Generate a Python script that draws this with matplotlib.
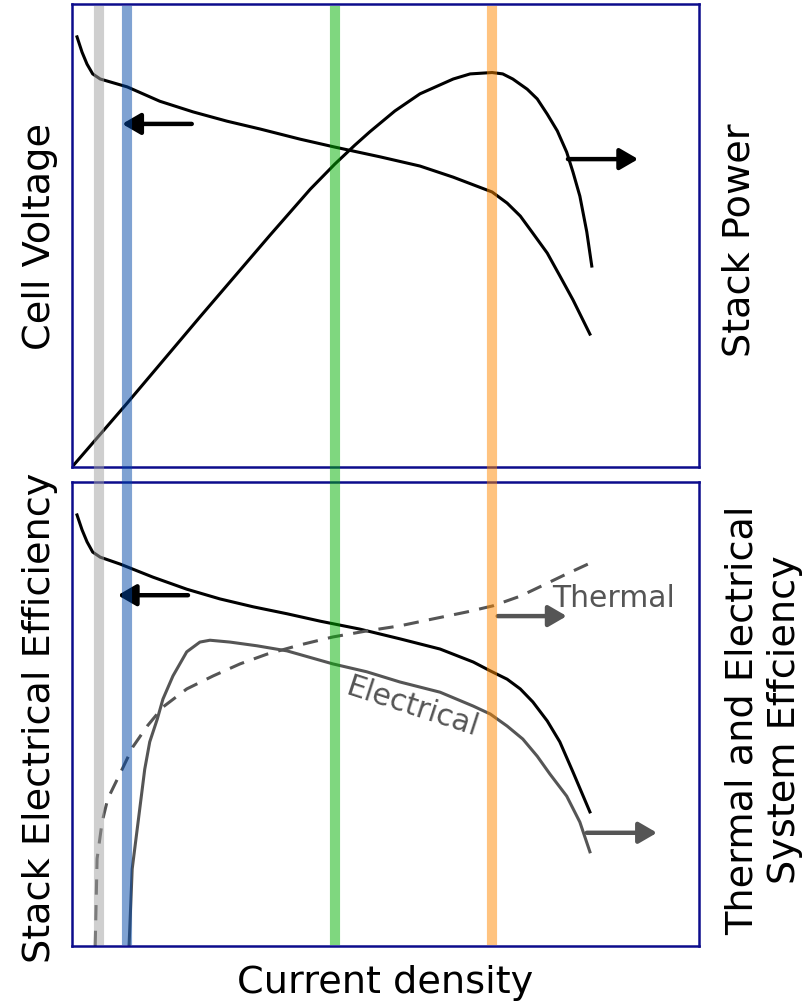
import matplotlib
matplotlib.use("Agg")
import matplotlib.pyplot as plt
from matplotlib.patches import FancyArrowPatch

plt.rcParams['font.family'] = ['DejaVu Sans']

# ---------------- data (arbitrary units, 0-100) ----------------
# operating points (vertical markers): current density
op_points = [4.3, 8.8, 41.9, 67.0]
op_colors = ['#a1a1a1', '#0047a7', '#00b100', '#ff8900']

# top panel: cell voltage (left axis) and stack power (right axis)
volt_x = [0.8, 1.6, 2.4, 3.3, 4.5, 8.8, 14.0, 19.3, 24.7, 30.0, 36.4, 41.9, 49.1,
          55.5, 60.8, 67.0, 69.4, 71.5, 73.5, 75.8, 77.8, 79.9, 82.6]
volt_y = [92.9, 89.6, 87.0, 84.9, 83.8, 82.1, 79.0, 76.7, 74.7, 73.0, 70.8, 69.1, 67.0,
          65.0, 62.6, 59.4, 57.0, 54.2, 50.5, 46.2, 41.3, 36.1, 28.7]

power_x = [0.0, 8.8, 20.4, 31.6, 38.0, 41.9, 45.1, 47.5, 51.5, 55.5, 60.8, 63.5, 67.0,
           68.7, 70.3, 72.6, 74.2, 75.8, 77.4, 78.9, 79.9, 81.0, 82.1, 82.9]
power_y = [0.0, 13.8, 32.4, 50.1, 60.0, 65.4, 69.5, 72.4, 76.9, 80.6, 83.8, 84.9, 85.2,
           84.9, 83.8, 81.6, 79.5, 76.2, 72.6, 68.0, 63.7, 58.5, 50.8, 43.4]

# bottom panel: stack electrical efficiency, system electrical & thermal efficiency
stack_eff_x = [0.8, 1.6, 2.4, 3.3, 4.5, 7.7, 12.9, 18.3, 23.6, 28.9, 34.3, 39.6, 45.9,
               52.3, 58.7, 64.0, 66.7, 69.4, 71.5, 73.5, 75.8, 77.8, 79.9, 82.6]
stack_eff_y = [92.9, 89.7, 87.1, 84.9, 83.8, 82.3, 79.5, 76.9, 74.8, 73.1, 71.6, 70.0, 68.3,
               66.2, 64.0, 61.2, 59.3, 57.5, 55.4, 52.6, 48.5, 44.0, 37.5, 28.9]

elec_x = [9.1, 9.6, 10.8, 11.6, 12.4, 13.6, 14.5, 16.1, 18.3, 20.4, 22.0, 25.2, 29.5,
          34.3, 41.6, 47.0, 52.3, 58.7, 64.0, 66.7, 69.4, 71.9, 74.2, 76.2, 78.9, 81.0, 82.6]
elec_y = [0.0, 16.6, 29.5, 38.1, 44.0, 48.9, 53.2, 58.2, 63.4, 65.5, 65.9, 65.5, 64.7,
          63.6, 60.8, 59.1, 56.9, 54.7, 51.7, 50.0, 47.4, 44.6, 40.9, 37.1, 32.3, 26.7, 20.3]

therm_x = [3.7, 4.0, 4.8, 5.7, 8.0, 9.7, 12.0, 14.5, 18.3, 22.5, 26.8, 31.1, 36.4,
           41.6, 47.0, 52.3, 57.6, 63.0, 67.1, 71.5, 74.6, 78.6, 83.4]
therm_y = [0.0, 18.8, 26.7, 31.7, 38.1, 42.9, 47.4, 51.5, 55.4, 58.2, 60.8, 62.9, 64.9,
           66.6, 67.9, 69.0, 70.5, 72.0, 73.3, 75.4, 77.4, 80.0, 83.0]

# labels
xlabel = "Current density"
top_left_label = "Cell Voltage"
top_right_label = "Stack Power"
bot_left_label = "Stack Electrical Efficiency"
bot_right_label = "Thermal and Electrical\nSystem Effciency"
thermal_label = "Thermal"
electrical_label = "Electrical"

# ---------------- figure ----------------
W, H = 812, 1003
fig = plt.figure(figsize=(W / 100, H / 100), dpi=100)

frame_col = '#0c0c8c'
left = 72 / W
width = (699 - 72) / W
ax_top = fig.add_axes([left, (H - 468) / H, width, (468 - 5) / H])
ax_bot = fig.add_axes([left, (H - 947) / H, width, (947 - 483) / H])

for ax in (ax_top, ax_bot):
    ax.set_xlim(0, 100)
    ax.set_ylim(0, 100)
    ax.set_xticks([])
    ax.set_yticks([])
    for s in ax.spines.values():
        s.set_color(frame_col)
        s.set_linewidth(1.8)

black_lw = 2.2
gray = '#555555'

ax_top.plot(volt_x, volt_y, color='black', lw=black_lw, solid_joinstyle='round')
ax_top.plot(power_x, power_y, color='black', lw=black_lw, solid_joinstyle='round')

ax_bot.plot(stack_eff_x, stack_eff_y, color='black', lw=black_lw, solid_joinstyle='round')
ax_bot.plot(elec_x, elec_y, color=gray, lw=2.2, solid_joinstyle='round')
ax_bot.plot(therm_x, therm_y, color=gray, lw=2.2, dashes=(5, 3.4))


def arrow(ax, tail, tip, color):
    p = FancyArrowPatch(tail, tip, arrowstyle='-|>,head_length=0.55,head_width=0.32',
                        mutation_scale=20, lw=3.2, color=color,
                        shrinkA=0, shrinkB=0, transform=ax.transData)
    ax.add_patch(p)


arrow(ax_top, (19.1, 74.1), (8.0, 74.1), 'black')
arrow(ax_top, (79.1, 66.5), (90.3, 66.5), 'black')
arrow(ax_bot, (18.5, 75.6), (7.3, 75.6), 'black')
arrow(ax_bot, (67.9, 71.1), (78.9, 71.1), gray)
arrow(ax_bot, (82.1, 24.4), (93.3, 24.4), gray)

ax_bot.text(86.4, 75.2, thermal_label, color=gray, fontsize=21.5,
            ha='center', va='center')
ax_bot.text(54.2, 51.7, electrical_label, color=gray, fontsize=21.5,
            ha='center', va='center', rotation=-18, rotation_mode='anchor')

# overlay for operating-point markers spanning both panels
ax_ov = fig.add_axes([left, (H - 946) / H, width, (946 - 7) / H])
ax_ov.set_xlim(0, 100)
ax_ov.set_ylim(0, 1)
ax_ov.axis('off')
for xv, c in zip(op_points, op_colors):
    ax_ov.axvline(xv, color=c, alpha=0.5, lw=7.3, solid_capstyle='butt')

# axis labels
lab_fs = 27.5
fig.text(385.5 / W, 1 - 983 / H, xlabel, fontsize=lab_fs, ha='center', va='center')
fig.text(40 / W, 1 - 237 / H, top_left_label, fontsize=lab_fs, rotation=90,
         ha='center', va='center')
fig.text(740 / W, 1 - 240 / H, top_right_label, fontsize=lab_fs, rotation=90,
         ha='center', va='center')
fig.text(40 / W, 1 - 718 / H, bot_left_label, fontsize=lab_fs, rotation=90,
         ha='center', va='center')
fig.text(764 / W, 1 - 720 / H, bot_right_label, fontsize=lab_fs, rotation=90,
         ha='center', va='center', multialignment='center', linespacing=1.25)

fig.savefig('out.png', dpi=100)
